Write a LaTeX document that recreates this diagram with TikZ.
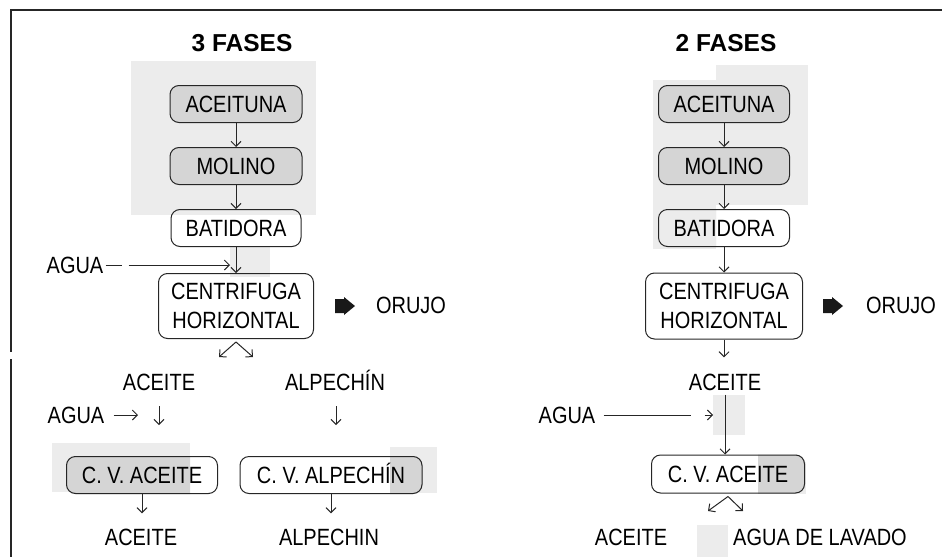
\documentclass[tikz,border=0pt]{standalone}
\usepackage{fontspec}
\setmainfont{Liberation Sans}[FakeStretch=0.85]
\newfontfamily\titlefont{Liberation Sans}
\usetikzlibrary{arrows.meta,backgrounds}
\definecolor{boxgray}{HTML}{D5D5D5}
\definecolor{patchgray}{HTML}{ECECEC}
\tikzset{
  txt/.style={font=\fontsize{23.5}{29}\selectfont, inner sep=0pt},
  one/.style={text height=16.8pt, text depth=0pt},
  lbl/.style={txt, one},
  ttl/.style={font=\titlefont\bfseries\fontsize{24.5}{29}\selectfont, inner sep=0pt, text height=17.5pt, text depth=0pt},
  box/.style={txt, one, draw=black!85, line width=1pt, rounded corners=9pt, minimum height=37pt},
  box2/.style={txt, align=center, draw=black!85, line width=1pt, rounded corners=9pt},
  gbox/.style={box, fill=boxgray},
  arr/.style={line width=1pt, black!85, -{Straight Barb[length=5pt,width=10pt]}},
  fat/.style={fill=black!90, draw=none},
  frame/.style={line width=1.5pt, black!85},
}
\begin{document}
\begin{tikzpicture}[x=1pt,y=-1pt]
\useasboundingbox (0,0) rectangle (942,557);
% scan patches
\fill[patchgray] (131,61) rectangle (316,215);
\fill[patchgray] (230,246) rectangle (270,277);
\fill[patchgray] (653,80) rectangle (716,249);
\fill[patchgray] (716,65) rectangle (808,205);
\fill[patchgray] (713,395) rectangle (745,435);
\fill[patchgray] (697,525) rectangle (728,557);
% frame
\draw[frame] (10,10) -- (942,10);
\draw[frame] (11,10) -- (11,352);
\draw[frame] (11,359) -- (11,557);

% ---------- 3 FASES ----------
\node[ttl] (t3) at (242,43) {3 FASES};
\node[gbox, minimum width=132pt] (ac1) at (236,104) {ACEITUNA};
\node[gbox, minimum width=132pt] (mo1) at (236,166) {MOLINO};
\node[box, minimum width=130pt] (ba1) at (236,228) {BATIDORA};
\node[box2, minimum width=155pt, minimum height=65pt] (ce1) at (236,306) {CENTRIFUGA\\HORIZONTAL};
\node[lbl] (ag1) at (75,265) {AGUA};
\coordinate (w1) at (230,265);
\coordinate (fa1) at (345,306);
\fill[fat] (fa1) ++(-10,-7) -- ++(9,0) -- ++(0,-2) -- ++(11,9) -- ++(-11,9) -- ++(0,-2) -- ++(-9,0) -- cycle;
\node[lbl] (or1) at (411,305) {ORUJO};
\coordinate (d1a) at (219,357);
\coordinate (d1b) at (253,357);
\node[lbl] (acl1) at (159,382) {ACEITE};
\node[lbl] (alp1) at (335,382) {ALPECHÍN};
\node[lbl] (ag2) at (76,415) {AGUA};
\coordinate (w2) at (138,415);
\coordinate (e1a) at (159,406);
\coordinate (e1b) at (159,425);
\coordinate (e2a) at (336,406);
\coordinate (e2b) at (336,425);
\node[box, minimum width=151pt] (cva1) at (142,475) {C. V. ACEITE};
\node[box, minimum width=182pt] (cvp1) at (331,475) {C. V. ALPECHÍN};
\node[lbl] (aco1) at (141,537) {ACEITE};
\node[lbl] (alo1) at (329,537) {ALPECHIN};

% ---------- 2 FASES ----------
\node[ttl] (t2) at (726,43) {2 FASES};
\node[gbox, minimum width=131pt] (ac2) at (724,104) {ACEITUNA};
\node[gbox, minimum width=131pt] (mo2) at (724,166) {MOLINO};
\node[box, minimum width=131pt] (ba2) at (724,228) {BATIDORA};
\node[box2, minimum width=157pt, minimum height=66pt] (ce2) at (724,306) {CENTRIFUGA\\HORIZONTAL};
\coordinate (fa2) at (833,306);
\fill[fat] (fa2) ++(-10,-7) -- ++(9,0) -- ++(0,-2) -- ++(11,9) -- ++(-11,9) -- ++(0,-2) -- ++(-9,0) -- cycle;
\node[lbl] (or2) at (901,305) {ORUJO};
\node[lbl] (acl2) at (725,382) {ACEITE};
\node[lbl] (ag3) at (567,415) {AGUA};
\coordinate (w3) at (713,415);
\node[box, minimum width=153pt, minimum height=38pt] (cv2) at (728,474) {C. V. ACEITE};
\coordinate (d2a) at (708,511);
\coordinate (d2b) at (743,511);
\node[lbl] (aco2) at (631,537) {ACEITE};
\node[lbl] (lav) at (820,537) {AGUA DE LAVADO};

% partial box fills (scan shading)
\begin{scope}[on background layer]
  \fill[patchgray] (52,443) rectangle (190,492);
  \fill[patchgray] (390,447) rectangle (437,493);
  \fill[patchgray] (758,462) rectangle (806,494);
  \begin{scope}
    \clip (52,440) rectangle (190,500);
    \fill[boxgray, rounded corners=9pt] (cva1.south west) rectangle (cva1.north east);
  \end{scope}
  \begin{scope}
    \clip (390,440) rectangle (440,500);
    \fill[boxgray, rounded corners=9pt] (cvp1.south west) rectangle (cvp1.north east);
  \end{scope}
  \begin{scope}
    \clip (640,200) rectangle (716,260);
    \fill[boxgray, rounded corners=9pt] (ba2.south west) rectangle (ba2.north east);
  \end{scope}
  \begin{scope}
    \clip (758,440) rectangle (820,500);
    \fill[boxgray, rounded corners=9pt] (cv2.south west) rectangle (cv2.north east);
  \end{scope}
\end{scope}

% ---------- connectors 3 FASES ----------
\draw[arr] (ac1) -- (mo1);
\draw[arr] (mo1) -- (ba1);
\draw[arr] (ba1) -- (ce1);
\draw[arr, dash pattern=on 16pt off 7pt on 300pt] ([xshift=2pt]ag1.east) -- (w1);
\draw[arr] ([yshift=-3pt]ce1.south) -- (d1a);
\draw[arr] ([yshift=-3pt]ce1.south) -- (d1b);
\draw[arr] ([xshift=9pt]ag2.east) -- (w2);
\draw[arr] (e1a) -- (e1b);
\draw[arr] (e2a) -- (e2b);
\draw[arr, shorten >=15pt] (cva1.south) -- (cva1.south |- aco1.north);
\draw[arr, shorten >=15pt] (cvp1.south) -- (cvp1.south |- alo1.north);

% ---------- connectors 2 FASES ----------
\draw[arr] (ac2) -- (mo2);
\draw[arr] (mo2) -- (ba2);
\draw[arr] (ba2) -- (ce2);
\draw[arr, shorten >=16pt] (ce2.south) -- (ce2.south |- acl2.north);
\draw[arr, shorten <=4pt] (acl2.south) -- (acl2.south |- cv2.north);
\draw[arr, dash pattern=on 87pt off 14pt on 300pt] ([xshift=8pt]ag3.east) -- (w3);
\draw[arr] ([yshift=-3pt]cv2.south) -- (d2a);
\draw[arr] ([yshift=-3pt]cv2.south) -- (d2b);
\end{tikzpicture}
\end{document}
